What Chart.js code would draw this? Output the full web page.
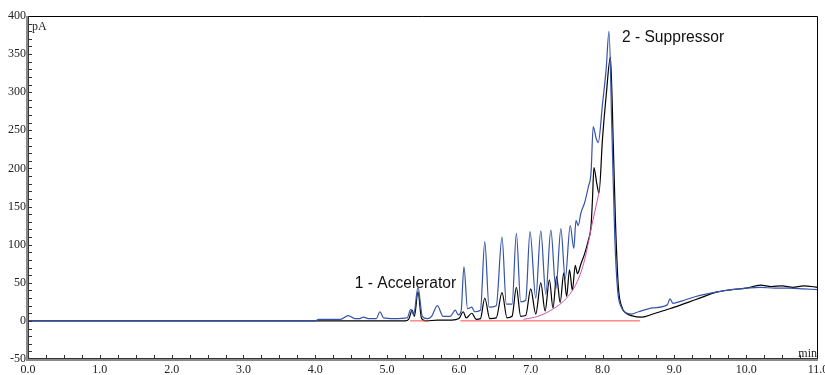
<!DOCTYPE html>
<html>
<head>
<meta charset="utf-8">
<script src="https://cdn.jsdelivr.net/npm/chart.js@4.4.0/dist/chart.umd.min.js"></script>
<style>
  body { margin: 0; background: #fff; }
  #wrap { width: 825px; height: 375px; }
</style>
</head>
<body>
<div id="wrap"><canvas id="chart1" width="825" height="375"></canvas></div>
<script>
// retention time (min) and signal (pA)
const blueT = [0, 4.0, 4.05, 4.35, 4.46, 4.55, 4.62, 4.67, 4.74, 4.85, 4.9, 4.95, 5.1, 5.28, 5.33, 5.37, 5.43, 5.49, 5.56, 5.62, 5.7, 5.78, 5.88, 5.95, 5.99, 6.03, 6.07, 6.12, 6.18, 6.22, 6.3, 6.36, 6.42, 6.52, 6.6, 6.66, 6.74, 6.8, 6.86, 6.93, 6.99, 7.07, 7.14, 7.21, 7.28, 7.35, 7.42, 7.48, 7.55, 7.6, 7.63, 7.66, 7.7, 7.75, 7.8, 7.84, 7.87, 7.91, 7.94, 8.0, 8.05, 8.09, 8.13, 8.17, 8.21, 8.26, 8.32, 8.4, 8.5, 8.7, 8.9, 8.94, 8.98, 9.1, 9.3, 9.6, 9.8, 10.0, 10.2, 10.4, 10.6, 10.8, 11.0]
const blueV = [0, 0, 2, 2, 7, 3, 3, 5, 3, 3, 12, 4, 3, 4, 15, 8, 44, 6, 3, 6, 20, 6, 6, 14, 8, 12, 71, 16, 18, 12, 14, 104, 18, 20, 110, 22, 22, 115, 25, 27, 117, 30, 118, 35, 119, 42, 121, 55, 125, 95, 132, 125, 142, 155, 175, 195, 255, 240, 234, 285, 330, 380, 250, 110, 40, 18, 11, 9, 12, 17, 21, 29, 23, 26, 32, 38, 41, 43, 44, 43, 43, 42, 41]

const blackT = [0, 5.25, 5.3, 5.35, 5.38, 5.43, 5.48, 5.55, 5.7, 5.9, 6.0, 6.06, 6.1, 6.18, 6.24, 6.3, 6.36, 6.43, 6.52, 6.6, 6.67, 6.74, 6.8, 6.86, 6.93, 7.0, 7.07, 7.14, 7.2, 7.26, 7.31, 7.36, 7.41, 7.46, 7.5, 7.54, 7.58, 7.62, 7.65, 7.7, 7.75, 7.8, 7.84, 7.86, 7.88, 7.92, 7.95, 8.0, 8.05, 8.11, 8.15, 8.18, 8.22, 8.27, 8.33, 8.4, 8.55, 8.7, 8.9, 9.0, 9.3, 9.6, 9.8, 10.0, 10.2, 10.35, 10.5, 10.65, 10.8, 11.0]
const blackV = [0, 0, 2, 14, 6, 38, 3, 0, 1, 1, 3, 12, 4, 10, 2, 3, 30, 3, 4, 37, 4, 6, 44, 6, 7, 42, 9, 50, 13, 54, 17, 58, 24, 63, 32, 67, 40, 73, 62, 75, 88, 105, 125, 160, 201, 180, 168, 240, 295, 346, 230, 130, 45, 18, 10, 7, 5, 9, 15, 18, 28, 38, 41, 43, 47, 45, 46, 44, 46, 44]

// integration baselines
const redT = [5.32, 5.56, 5.56, 6.02, 8.52]
const redV = [0, 0, null, 0, 0]
const pinkT = [6.9, 7.1, 7.3, 7.5, 7.65, 7.75, 7.85, 7.95]
const pinkV = [2, 6, 15, 30, 52, 80, 125, 168]

const xTicks = [0, 1, 2, 3, 4, 5, 6, 7, 8, 9, 10, 11]
const yTicks = [-50, 0, 50, 100, 150, 200, 250, 300, 350, 400]

const peakLabels = [
  { text: '1 - Accelerator', x: 4.55, y: 49 },
  { text: '2 - Suppressor', x: 8.27, y: 371 },
]

function pts(t, v) {
  return t.map((x, i) => ({ x: x, y: v[i] }))
}

const serif = '"Liberation Serif", "DejaVu Serif", serif'

const framePlugin = {
  id: 'frame',
  afterDatasetsDraw(chart) {
    const ctx = chart.ctx
    const a = chart.chartArea
    const xs = chart.scales.x
    const ys = chart.scales.y
    ctx.save()
    // thin top / right border
    ctx.strokeStyle = '#000'
    ctx.lineWidth = 1
    ctx.beginPath()
    ctx.moveTo(a.left, a.top + 0.5)
    ctx.lineTo(a.right - 0.5, a.top + 0.5)
    ctx.lineTo(a.right - 0.5, a.bottom)
    ctx.stroke()
    // heavy left / bottom axes
    ctx.fillStyle = '#8a8a8a'
    ctx.fillRect(a.left - 2, a.top, 3, a.bottom - a.top + 2)
    ctx.fillRect(a.left - 2, a.bottom - 1, a.right - a.left + 2, 3)
    ctx.fillStyle = '#333'
    ctx.fillRect(a.left, a.top, 1, a.bottom - a.top)
    ctx.fillRect(a.left, a.bottom - 1, a.right - a.left, 1)
    // minor ticks, inward
    ctx.strokeStyle = '#333'
    ctx.beginPath()
    for (let v = 0.25; v < 11; v += 0.25) {
      const px = Math.round(xs.getPixelForValue(v)) + 0.5
      ctx.moveTo(px, a.bottom - 1)
      ctx.lineTo(px, a.bottom - 4)
    }
    for (let v = -40; v < 400; v += 10) {
      const py = Math.round(ys.getPixelForValue(v)) + 0.5
      ctx.moveTo(a.left + 1, py)
      ctx.lineTo(a.left + 4, py)
    }
    ctx.stroke()
    // unit labels
    ctx.fillStyle = '#222'
    ctx.font = '12px ' + serif
    ctx.textBaseline = 'middle'
    ctx.textAlign = 'left'
    ctx.fillText('pA', a.left + 4, a.top + 11)
    ctx.textAlign = 'right'
    ctx.fillText('min', a.right - 1, a.bottom - 5)
    // peak names
    ctx.fillStyle = '#111'
    ctx.font = '15.6px "Liberation Sans", Arial, sans-serif'
    ctx.textAlign = 'left'
    peakLabels.forEach(p => {
      ctx.fillText(p.text, xs.getPixelForValue(p.x), ys.getPixelForValue(p.y))
    })
    ctx.restore()
  }
}

const lineStyle = {
  pointRadius: 0,
  borderWidth: 1,
  fill: false,
  tension: 0,
}

const config1 = {
  type: 'line',
  data: {
    datasets: [
      { ...lineStyle, data: pts(redT, redV), borderColor: '#ff4a4a', spanGaps: false },
      { ...lineStyle, data: pts(pinkT, pinkV), borderColor: '#cc55aa', cubicInterpolationMode: 'monotone' },
      { ...lineStyle, data: pts(blueT, blueV), borderColor: '#3553a8', borderWidth: 1.2, cubicInterpolationMode: 'monotone' },
      { ...lineStyle, data: pts(blackT, blackV), borderColor: '#000', borderWidth: 1.2, cubicInterpolationMode: 'monotone' },
    ],
  },
  options: {
    responsive: false,
    animation: false,
    layout: { padding: { top: 16, right: 7, left: 0, bottom: 0 } },
    plugins: { legend: { display: false }, tooltip: { enabled: false } },
    scales: {
      x: {
        type: 'linear',
        min: 0,
        max: 11,
        afterBuildTicks: s => { s.ticks = xTicks.map(v => ({ value: v })) },
        afterFit: s => { s.height = 16; s.paddingLeft = 0; s.paddingRight = 0 },
        grid: { display: false, drawTicks: false },
        border: { display: false },
        ticks: {
          autoSkip: false,
          maxRotation: 0,
          padding: 4,
          color: '#222',
          font: { family: serif, size: 12 },
          callback: v => v.toFixed(1),
        },
      },
      y: {
        min: -50,
        max: 400,
        afterBuildTicks: s => { s.ticks = yTicks.map(v => ({ value: v })) },
        afterFit: s => { s.width = 28; s.paddingTop = 0; s.paddingBottom = 0 },
        grid: { display: false, drawTicks: false },
        border: { display: false },
        ticks: {
          padding: 2,
          color: '#222',
          font: { family: serif, size: 12 },
        },
      },
    },
  },
  plugins: [framePlugin],
}

var chart1 = new Chart(document.getElementById('chart1').getContext('2d'), config1)
</script>
</body>
</html>
